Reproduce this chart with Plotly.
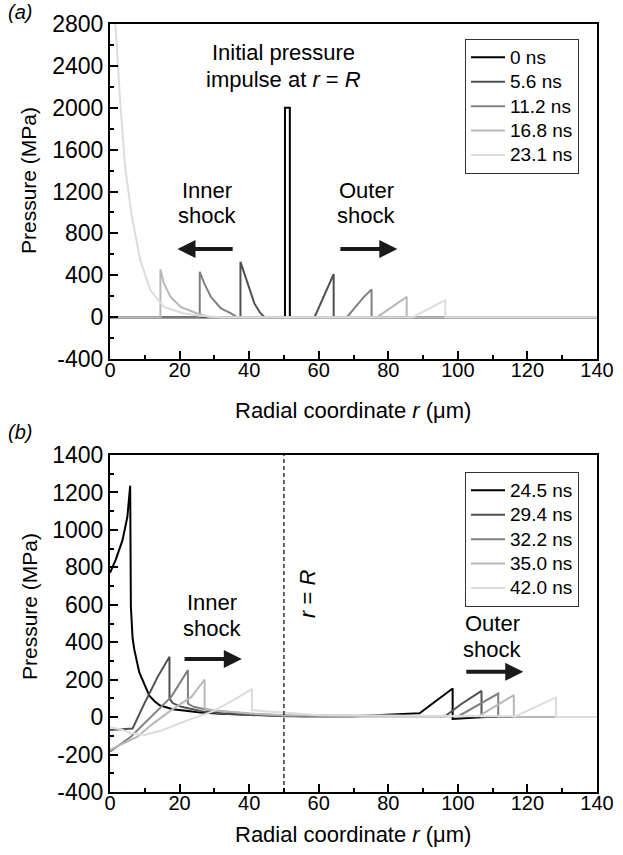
import plotly.graph_objects as go

W, H = 623, 855

# ---------------- Panel (a) data ----------------
labels_a = ["0 ns", "5.6 ns", "11.2 ns", "16.8 ns", "23.1 ns"]
r_a_0 = [0, 50.3, 50.3, 51.7, 51.7, 140]
p_a_0 = [0, 0, 2000, 2000, 0, 0]
r_a_5p6 = [0, 37.5, 37.5, 38.6, 40.1, 41.5, 43.3, 44.5, 58.8, 60.9, 62.8, 64.3, 64.3, 140]
p_a_5p6 = [0, 0, 528, 417, 258, 131, 35, 0, 0, 162, 306, 411, 0, 0]
r_a_11p2 = [0, 25.8, 25.8, 27.1, 29.0, 31.9, 34.8, 36.5, 68.1, 70.5, 73.0, 75.2, 75.2, 140]
p_a_11p2 = [0, 0, 433, 322, 194, 83, 35, 0, 0, 98, 194, 264, 0, 0]
r_a_16p8 = [0, 14.5, 14.5, 15.5, 17.4, 20.3, 25.1, 29, 76.8, 85.3, 85.3, 140]
p_a_16p8 = [0, 0, 455, 322, 194, 98, 35, 0, 0, 194, 0, 0]
r_a_23p1 = [0.3, 0.8, 1.7, 2.9, 4.35, 6.3, 8.7, 11.6, 15.5, 21, 26, 32, 87, 96.4, 96.4, 140]
p_a_23p1 = [3400, 3000, 2740, 2072, 1433, 958, 544, 258, 98, 38, 12, 0, 0, 162, 0, 0]
yticks_a = [-400, 0, 400, 800, 1200, 1600, 2000, 2400, 2800]
yticklabels_a = ["-400", "0", "400", "800", "1200", "1600", "2000", "2400", "2800"]

# ---------------- Panel (b) data ----------------
labels_b = ["24.5 ns", "29.4 ns", "32.2 ns", "35.0 ns", "42.0 ns"]
r_b_24p5 = [0, 1.6, 3.6, 5.0, 5.8, 6.0, 6.5, 7.0, 8.4, 9.9, 11.3, 12.8, 14.2, 16.6, 18, 22.4,
            26, 32, 44.6, 55, 70, 89, 93.4, 98.5, 98.5, 108, 140]
p_b_24p5 = [771, 839, 945, 1070, 1236, 589, 420, 360, 240, 170, 115, 85, 64, 50, 42, 33,
            24, 18, 10, 5, 5, 20, 82, 153, -10, 0, 0]
r_b_29p4 = [0, 3, 6.5, 9.9, 13.7, 17.1, 17.1, 18, 20.5, 27.2, 35, 50, 96.3, 101, 106.8, 106.8, 140]
p_b_29p4 = [-69, -66, -61, 73, 215, 322, 100, 75, 55, 28, 15, 5, 5, 70, 140, 0, 0]
r_b_32p2 = [0, 6, 12.8, 17.6, 22.4, 22.4, 24, 28.7, 40, 50, 100.2, 111.6, 111.6, 140]
p_b_32p2 = [-185, -105, 20, 108, 251, 72, 55, 37, 18, 8, 5, 126, 0, 0]
r_b_35p0 = [0, 4, 7.9, 12, 17.6, 23.4, 27.2, 27.2, 30, 40, 50, 106, 116.1, 116.1, 140]
p_b_35p0 = [-175, -140, -105, -40, 37, 108, 201, 46, 35, 20, 10, 5, 118, 0, 0]
r_b_42p0 = [0, 3, 6, 9.9, 15, 22.4, 29.2, 35, 40.8, 40.8, 45, 50, 60, 116.6, 128.2, 128.2, 140]
p_b_42p0 = [-55, -65, -85, -96, -70, -16, 28, 85, 150, 37, 30, 25, 10, 5, 105, 0, 0]
yticks_b = [-400, -200, 0, 200, 400, 600, 800, 1000, 1200, 1400]
yticklabels_b = ["-400", "-200", "0", "200", "400", "600", "800", "1000", "1200", "1400"]

R_value = 50

colors = ["#000000", "#505050", "#808080", "#b8b8b8", "#dcdcdc"]
FONT = "Arial, Liberation Sans, sans-serif"

fig = go.Figure()

series_a = [(r_a_0, p_a_0), (r_a_5p6, p_a_5p6), (r_a_11p2, p_a_11p2),
            (r_a_16p8, p_a_16p8), (r_a_23p1, p_a_23p1)]
series_b = [(r_b_24p5, p_b_24p5), (r_b_29p4, p_b_29p4), (r_b_32p2, p_b_32p2),
            (r_b_35p0, p_b_35p0), (r_b_42p0, p_b_42p0)]

def leg_name(s):
    return "<span style='font-size:19px'>" + s + "</span>"

for (r, p), lab, c in zip(series_a, labels_a, colors):
    fig.add_trace(go.Scatter(x=r, y=p, mode="lines", name=leg_name(lab),
                             line=dict(color=c, width=2), xaxis="x", yaxis="y",
                             legend="legend"))
for (r, p), lab, c in zip(series_b, labels_b, colors):
    fig.add_trace(go.Scatter(x=r, y=p, mode="lines", name=leg_name(lab),
                             line=dict(color=c, width=2), xaxis="x2", yaxis="y2",
                             legend="legend2"))

def px(x):
    return x / W

def py(y):
    return 1 - y / H

xdom = [px(110), px(597)]
common_x = dict(range=[0, 140], dtick=20, ticks="inside", ticklen=8, tickwidth=1.5,
                tickcolor="black", showline=True, linecolor="black", linewidth=2,
                mirror=True, showgrid=False, zeroline=False, automargin=False,
                ticklabelstandoff=-8,
                tickfont=dict(family=FONT, size=20, color="black"),
                minor=dict(ticks="inside", ticklen=4, tickwidth=1.5, tickcolor="black", dtick=10),
                domain=xdom)
common_y = dict(ticks="inside", ticklen=8, tickwidth=1.5, tickcolor="black",
                showline=True, linecolor="black", linewidth=2, mirror=True,
                showgrid=False, zeroline=False, automargin=False,
                tickfont=dict(family=FONT, size=23, color="black"))

legend_style = dict(xanchor="right", yanchor="top",
                    bordercolor="#333333", borderwidth=1, bgcolor="white",
                    font=dict(family=FONT, size=16.5, color="black"),
                    itemwidth=34, tracegroupgap=0)

fig.update_layout(
    width=W, height=H, margin=dict(l=0, r=0, t=0, b=0),
    paper_bgcolor="white", plot_bgcolor="white",
    font=dict(family=FONT, color="black"),
    xaxis=dict(**common_x, anchor="y"),
    yaxis=dict(**common_y, range=[-400, 2800], tickmode="array", tickvals=yticks_a,
               ticktext=yticklabels_a, anchor="x",
               minor=dict(ticks="inside", ticklen=4, tickwidth=1.5, tickcolor="black",
                          tickmode="linear", tick0=0, dtick=200),
               domain=[py(359), py(24)]),
    xaxis2=dict(**common_x, anchor="y2"),
    yaxis2=dict(**common_y, range=[-400, 1400], tickmode="array", tickvals=yticks_b,
                ticktext=yticklabels_b, anchor="x2",
                minor=dict(ticks="inside", ticklen=4, tickwidth=1.5, tickcolor="black",
                           tickmode="linear", tick0=0, dtick=100),
                domain=[py(792), py(455)]),
    legend=dict(x=px(579), y=py(39), **legend_style),
    legend2=dict(x=px(579), y=py(472), **legend_style),
    showlegend=True,
)

# dashed r = R line in panel (b)
fig.add_shape(type="line", xref="x2", yref="y2 domain", x0=R_value, x1=R_value, y0=0, y1=1,
              line=dict(color="black", width=1.2, dash="4px,3px"))

def text(s, x, y, size=22, angle=0):
    fig.add_annotation(text=s, x=px(x), y=py(y), xref="paper", yref="paper",
                       xanchor="center", yanchor="middle", showarrow=False,
                       textangle=angle, font=dict(family=FONT, size=size, color="black"))

def arrow(xref, yref, x0, x1, y):
    fig.add_annotation(x=x1, y=y, ax=x0, ay=y, xref=xref, yref=yref, axref=xref, ayref=yref,
                       text="", showarrow=True, arrowhead=2, arrowsize=0.9, arrowwidth=4,
                       arrowcolor="#1a1a1a")

# panel labels
text("<i>(a)</i>", 20, 12, 20)
text("<i>(b)</i>", 20, 432, 20)
# axis titles
text("Pressure (MPa)", 28, 181, 21, -90)
text("Pressure (MPa)", 29, 607, 21, -90)
text("Radial coordinate <i>r</i> (μm)", 353, 410, 22)
text("Radial coordinate <i>r</i> (μm)", 353, 834, 22)
# panel (a) notes
text("Initial pressure", 283, 52)
text("impulse at <i>r</i> = <i>R</i>", 283, 79)
text("Inner", 207, 190)
text("shock", 207, 215)
text("Outer", 366, 190)
text("shock", 366, 215)
arrow("x", "y", 35.7, 19.4, 650)
arrow("x", "y", 65.8, 82.6, 650)
# panel (b) notes
text("Inner", 212, 602)
text("shock", 212, 628)
text("Outer", 492, 623)
text("shock", 492, 649)
text("<i>r</i> = <i>R</i>", 307, 594, 22, -90)
arrow("x2", "y2", 21.0, 37.9, 310)
arrow("x2", "y2", 102.0, 118.8, 242)

fig.write_html("out.html")
